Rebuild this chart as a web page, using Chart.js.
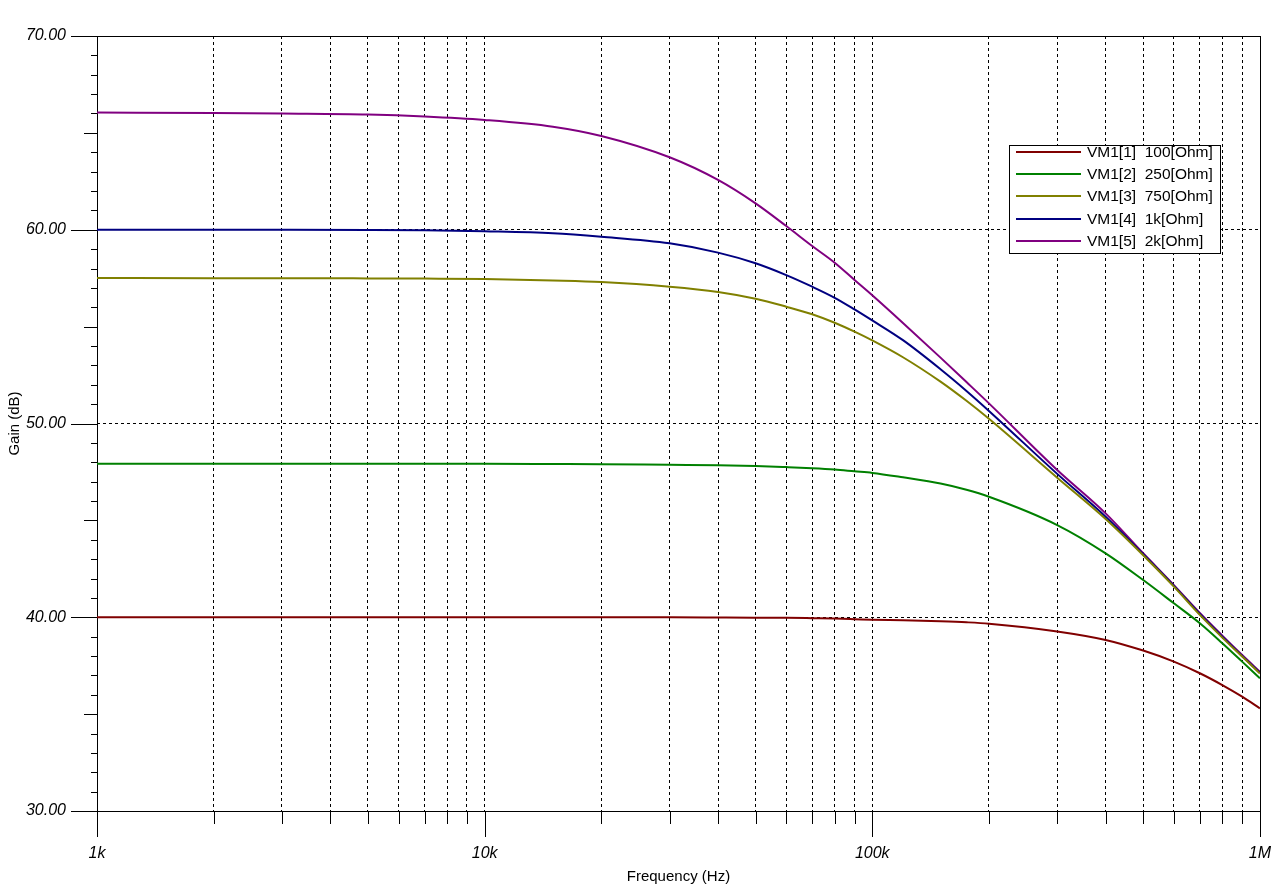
<!DOCTYPE html>
<html>
<head>
<meta charset="utf-8">
<script src="https://cdn.jsdelivr.net/npm/chart.js@4/dist/chart.umd.min.js"></script>
<style>
  body { margin: 0; background: #fff; }
  #wrap { position: relative; width: 1278px; height: 896px; }
  #legend {
    position: absolute; left: 1009px; top: 145px; width: 212px; height: 109px;
    border: 1px solid #000; background: #fff; box-sizing: border-box;
    font-family: Arial, "Liberation Sans", sans-serif; font-size: 15.5px; color: #000;
  }
  #legend .row { position: absolute; left: 0; width: 100%; height: 22px; line-height: 22px; white-space: pre; }
  #legend .swatch { position: absolute; left: 6px; top: 10px; width: 65px; height: 2px; }
  #legend .txt { position: absolute; left: 77px; top: 0; }
</style>
</head>
<body>
<div id="wrap">
  <canvas id="gainChart" width="1278" height="896"></canvas>
  <div id="legend"></div>
</div>
<script>
// Frequencies (Hz) the curves were read at
const freqs = [1000, 2000, 3000, 5000, 7000, 10000, 15000, 20000, 30000, 40000, 50000, 60000, 70000, 80000, 90000,
    100000, 120000, 150000, 175000, 200000, 300000, 400000, 500000, 600000, 700000, 800000, 900000, 1000000];

// Gain in dB for each load
const gain100 = [40.0, 40.0, 40.0, 40.0, 40.0, 40.0, 40.0, 40.0, 40.0, 39.99, 39.98, 39.97, 39.95, 39.93, 39.9,
    39.87, 39.84, 39.79, 39.74, 39.67, 39.27, 38.83, 38.28, 37.71, 37.11, 36.5, 35.9, 35.3];
const gain250 = [47.92, 47.92, 47.92, 47.92, 47.92, 47.92, 47.91, 47.9, 47.87, 47.85, 47.81, 47.75, 47.69, 47.62, 47.53,
    47.45, 47.22, 46.9, 46.58, 46.22, 44.76, 43.3, 41.92, 40.72, 39.69, 38.66, 37.71, 36.85];
const gain750 = [57.51, 57.5, 57.5, 57.49, 57.48, 57.46, 57.38, 57.3, 57.06, 56.79, 56.44, 56.03, 55.64, 55.2, 54.74,
    54.29, 53.42, 52.16, 51.17, 50.24, 47.2, 45.07, 43.2, 41.58, 40.12, 38.95, 37.97, 37.1];
const gain1k = [60.0, 60.0, 60.0, 59.99, 59.97, 59.92, 59.82, 59.64, 59.3, 58.82, 58.27, 57.66, 57.06, 56.49, 55.89,
    55.32, 54.3, 52.8, 51.68, 50.65, 47.4, 45.19, 43.25, 41.62, 40.17, 39.0, 38.0, 37.13];
const gain2k = [66.05, 66.03, 66.0, 65.95, 65.85, 65.67, 65.32, 64.84, 63.74, 62.57, 61.36, 60.19, 59.16, 58.3, 57.41,
    56.62, 55.19, 53.4, 52.14, 51.04, 47.6, 45.36, 43.3, 41.66, 40.22, 39.05, 38.05, 37.19];

const seriesLabels = ['VM1[1]  100[Ohm]', 'VM1[2]  250[Ohm]', 'VM1[3]  750[Ohm]', 'VM1[4]  1k[Ohm]', 'VM1[5]  2k[Ohm]'];
const seriesColors = ['#800000', '#008000', '#808000', '#000080', '#800080'];
const seriesValues = [gain100, gain250, gain750, gain1k, gain2k];

// Axis ticks
const xTicks = [1e3, 2e3, 3e3, 4e3, 5e3, 6e3, 7e3, 8e3, 9e3, 1e4, 2e4, 3e4, 4e4, 5e4, 6e4, 7e4, 8e4, 9e4,
    1e5, 2e5, 3e5, 4e5, 5e5, 6e5, 7e5, 8e5, 9e5, 1e6];
const xLabels = { 1000: '1k', 10000: '10k', 100000: '100k', 1000000: '1M' };
const yMin = 30, yMax = 70;

const labelFont = { family: 'Arial, "Liberation Sans", sans-serif', size: 16, style: 'italic' };
const titleFont = { family: 'Arial, "Liberation Sans", sans-serif', size: 15 };

const datasets = seriesValues.map((vals, i) => ({
    label: seriesLabels[i],
    data: vals.map((v, j) => ({ x: freqs[j], y: v })),
    borderColor: seriesColors[i],
    backgroundColor: seriesColors[i],
    borderWidth: 2,
    pointRadius: 0,
    cubicInterpolationMode: 'monotone',
    fill: false,
}));

// Draws the outer frame and the tick marks of varying length
const tickPlugin = {
    id: 'tickMarks',
    beforeDatasetsDraw(chart) {
        const { ctx, chartArea: a } = chart;
        ctx.save();
        ctx.strokeStyle = '#000';
        ctx.lineWidth = 1;
        ctx.strokeRect(Math.round(a.left) + 0.5, Math.round(a.top) + 0.5,
            Math.round(a.right - a.left), Math.round(a.bottom - a.top));
        ctx.restore();
    },
    afterDraw(chart) {
        const { ctx, chartArea: a, scales } = chart;
        ctx.save();
        ctx.strokeStyle = '#000';
        ctx.lineWidth = 1;
        ctx.beginPath();
        scales.x.ticks.forEach(t => {
            const px = Math.round(scales.x.getPixelForValue(t.value)) + 0.5;
            const len = xLabels[t.value] ? 26 : 13;
            ctx.moveTo(px, a.bottom);
            ctx.lineTo(px, a.bottom + len);
        });
        scales.y.ticks.forEach(t => {
            const py = Math.round(scales.y.getPixelForValue(t.value)) + 0.5;
            const len = t.value % 10 === 0 ? 26 : (t.value % 5 === 0 ? 13 : 6);
            ctx.moveTo(a.left, py);
            ctx.lineTo(a.left - len, py);
        });
        ctx.stroke();
        ctx.restore();
    }
};

const ctx = document.getElementById('gainChart').getContext('2d');
const gainChart = new Chart(ctx, {
    type: 'line',
    data: { datasets: datasets },
    options: {
        responsive: false,
        animation: false,
        layout: { padding: { top: 36, right: 16, left: 0, bottom: 0 } },
        plugins: {
            legend: { display: false },
            tooltip: { enabled: false },
        },
        scales: {
            x: {
                type: 'logarithmic',
                min: 1000,
                max: 1000000,
                afterBuildTicks: scale => {
                    scale.ticks = xTicks.map(v => ({ value: v }));
                },
                afterFit: scale => { scale.height = 85; },
                ticks: {
                    autoSkip: false,
                    maxRotation: 0,
                    color: '#000',
                    font: labelFont,
                    padding: 7,
                    callback: value => xLabels[value] || '',
                },
                grid: {
                    color: c => (c.tick && (c.tick.value === 1000 || c.tick.value === 1000000)) ? 'rgba(0,0,0,0)' : '#000',
                    lineWidth: 1,
                    tickLength: 26,
                    tickColor: 'rgba(0,0,0,0)',
                },
                border: { display: false, dash: [3, 3] },
                title: {
                    display: true,
                    text: 'Frequency (Hz)',
                    color: '#000',
                    font: titleFont,
                    padding: { top: 0, bottom: 10 },
                },
            },
            y: {
                min: yMin,
                max: yMax,
                afterBuildTicks: scale => {
                    const t = [];
                    for (let v = yMin; v <= yMax; v++) t.push({ value: v });
                    scale.ticks = t;
                },
                afterFit: scale => { scale.width = 97; },
                ticks: {
                    autoSkip: false,
                    color: '#000',
                    font: labelFont,
                    padding: 5,
                    callback: value => value % 10 === 0 ? value.toFixed(2) : '',
                },
                grid: {
                    color: c => (c.tick && c.tick.value % 10 === 0 && c.tick.value !== yMin && c.tick.value !== yMax) ? '#000' : 'rgba(0,0,0,0)',
                    lineWidth: 1,
                    tickLength: 26,
                    tickColor: 'rgba(0,0,0,0)',
                },
                border: { display: false, dash: [3, 3] },
                title: {
                    display: true,
                    text: 'Gain (dB)',
                    color: '#000',
                    font: titleFont,
                    padding: { top: 6, bottom: 0 },
                },
            },
        },
    },
    plugins: [tickPlugin],
});

// HTML legend inside the plot area
const legendBox = document.getElementById('legend');
seriesLabels.forEach((label, i) => {
    const row = document.createElement('div');
    row.className = 'row';
    row.style.top = (-5 + i * 22.2) + 'px';
    row.innerHTML = `<span class="swatch" style="background:${seriesColors[i]}"></span><span class="txt">${label}</span>`;
    legendBox.appendChild(row);
});
</script>
</body>
</html>
